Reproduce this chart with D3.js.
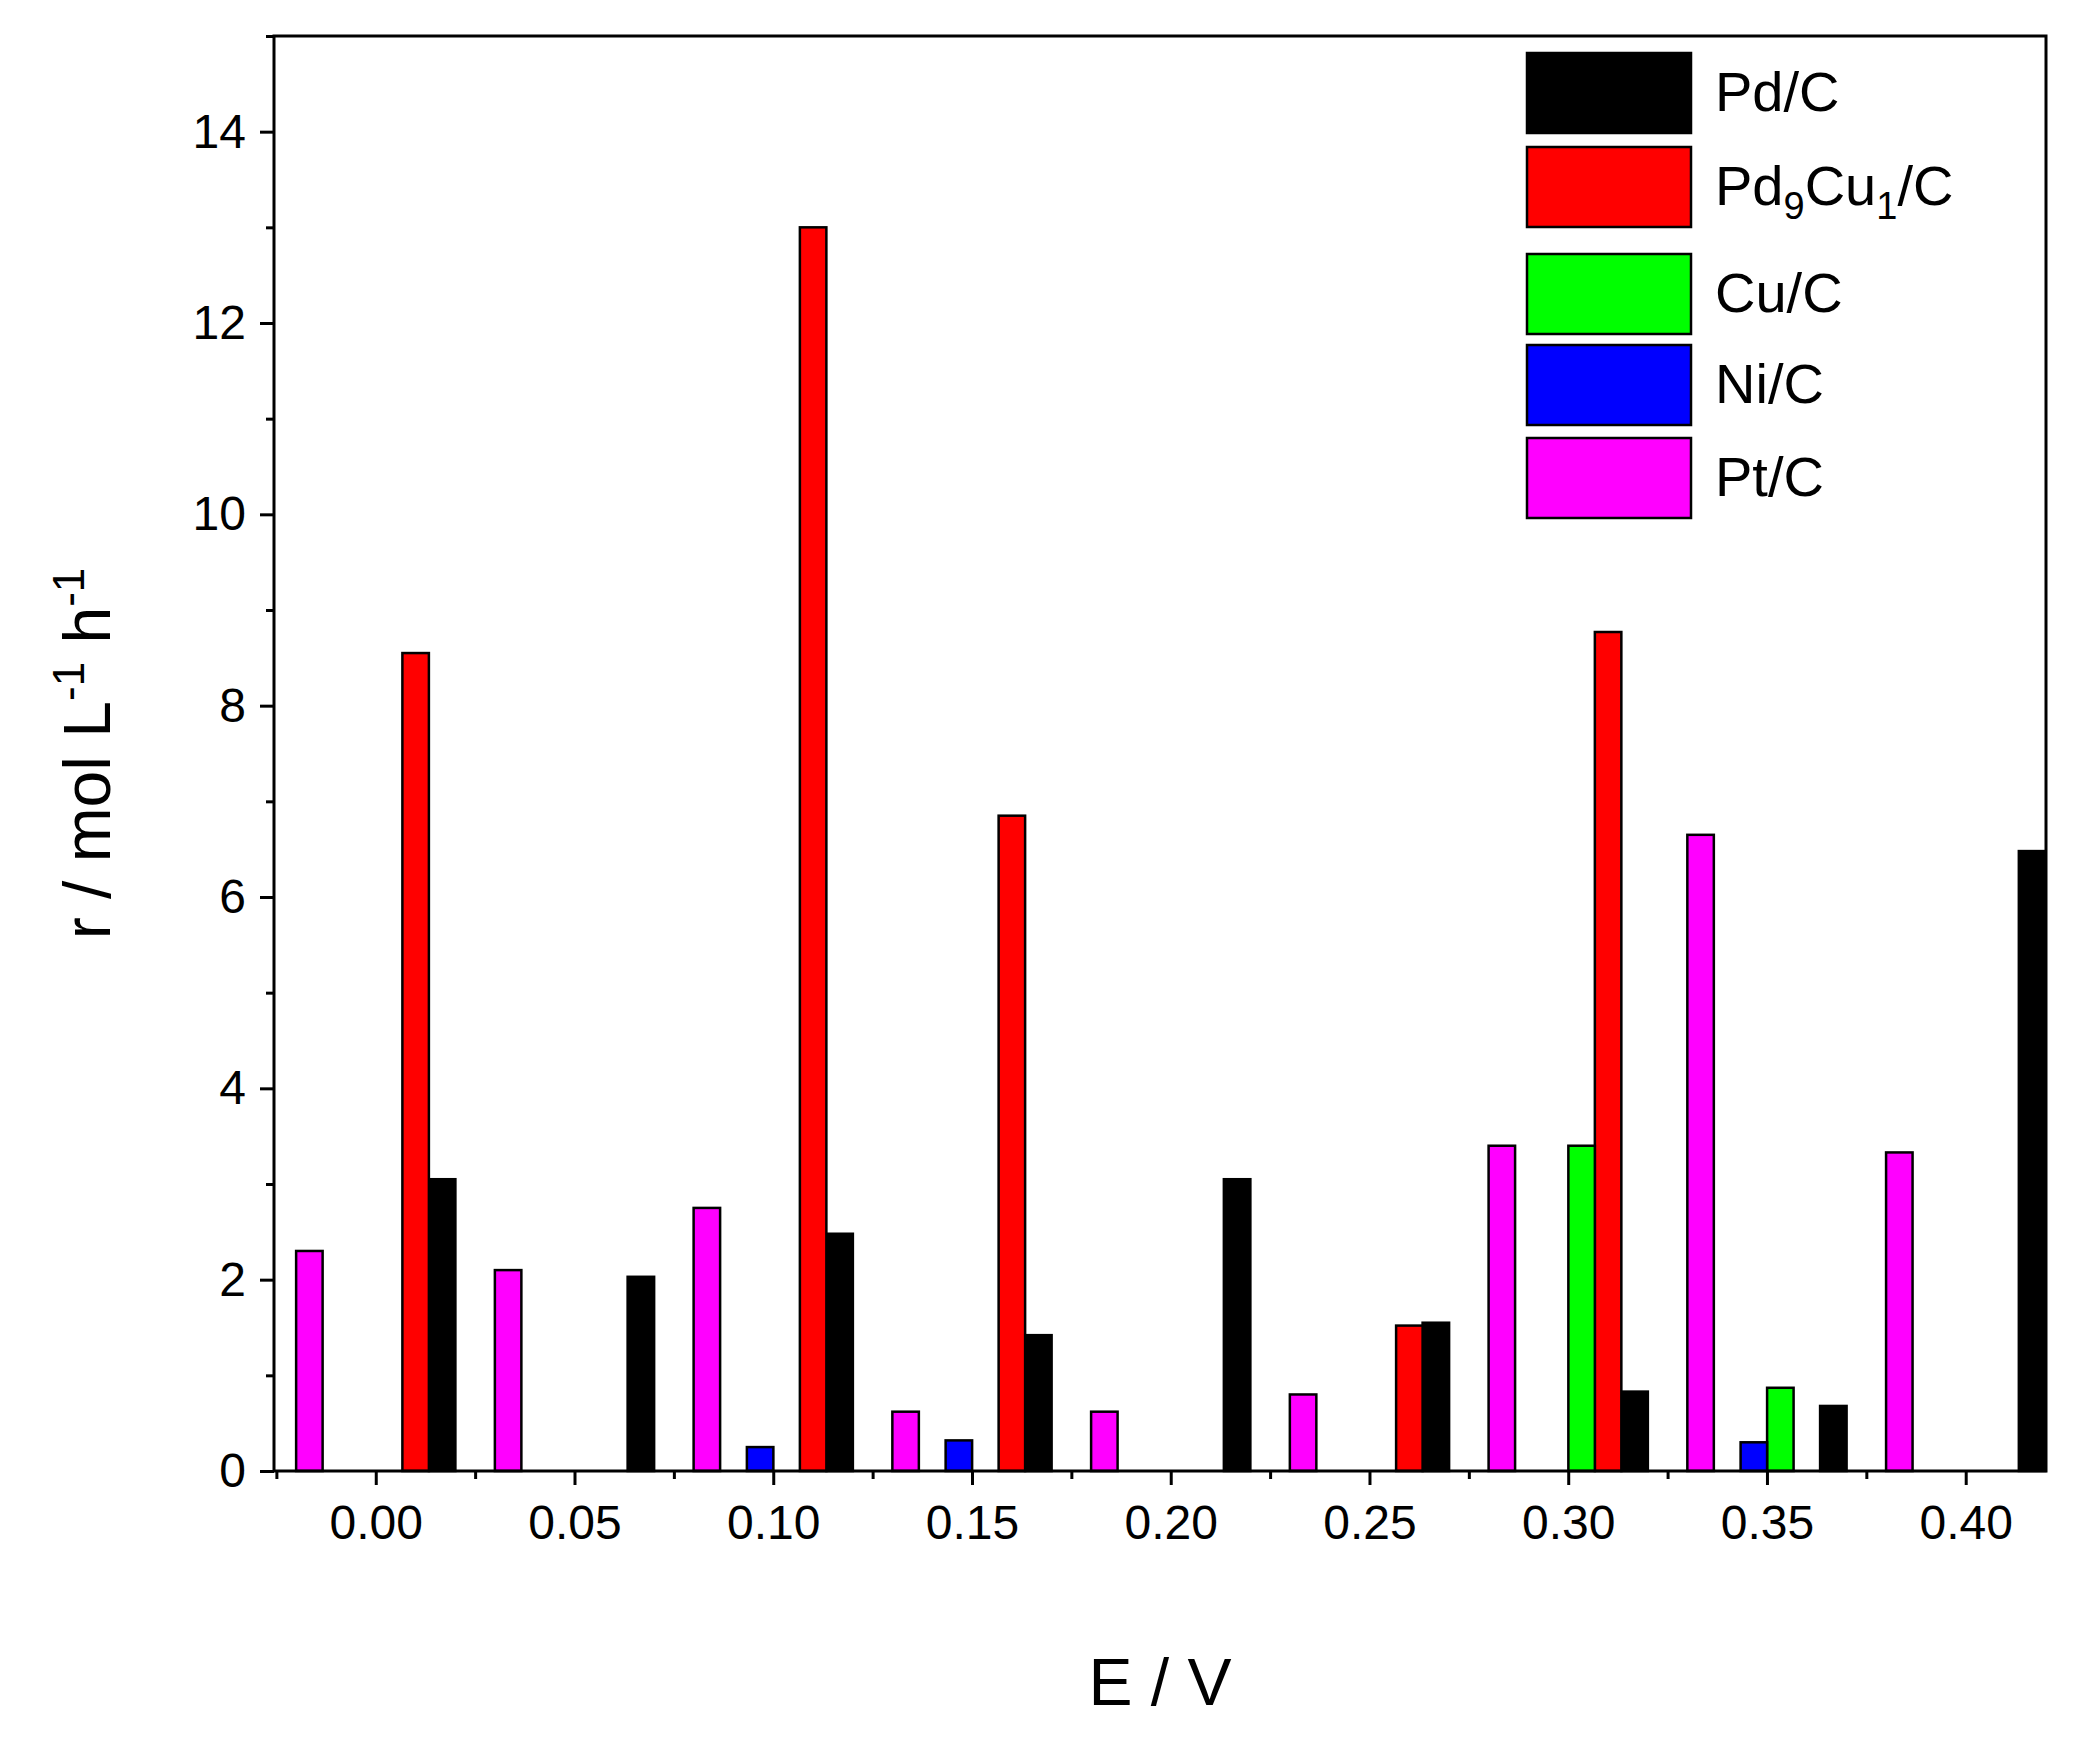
<!DOCTYPE html>
<html><head><meta charset="utf-8">
<script src="https://cdnjs.cloudflare.com/ajax/libs/d3/7.8.5/d3.min.js"></script>
<style>body{margin:0;background:#fff}text{font-family:Arial,"Liberation Sans",sans-serif}</style>
</head><body>
<script>
// group positions (E / V) for the grouped series, Pt/C sits on its own positions
var groupE = [0.0167,0.0667,0.1167,0.1667,0.2167,0.2667,0.3167,0.3667,0.4167];
var ptE = [-0.0167,0.0333,0.0833,0.1333,0.1833,0.2333,0.2833,0.3333,0.3833];
var pdC = [3.05,2.03,2.48,1.42,3.05,1.55,0.83,0.68,6.48];
var pd9cu1C = [8.55,0,13.0,6.85,0,1.52,8.77,0,0];
var cuC = [0,0,0,0,0,0,3.4,0.87,0];
var niC = [0,0,0.25,0.32,0,0,0,0.3,0];
var ptC = [2.3,2.1,2.75,0.62,0.62,0.8,3.4,6.65,3.33];
var xTicks = [0,0.05,0.1,0.15,0.2,0.25,0.3,0.35,0.4];
var yTicks = [0,2,4,6,8,10,12,14];

var W = 2097, H = 1739;
var L = 274, R = 2046, T = 36, B = 1471;
var bw = 1/150; // bar width in volts

var svg = d3.select("body").append("svg").attr("width", W).attr("height", H);
var x = d3.scaleLinear().domain([-0.0256,0.4202]).range([L,R]);
var y = d3.scaleLinear().domain([0,15]).range([B,T]);

//series: name, color, values, positions, offset in bar widths
var series = [
  {name:"Pd/C", color:"#000000", v:pdC, e:groupE, off:0},
  {name:"Pd9Cu1/C", color:"#ff0000", v:pd9cu1C, e:groupE, off:-1},
  {name:"Cu/C", color:"#00ff00", v:cuC, e:groupE, off:-2},
  {name:"Ni/C", color:"#0000ff", v:niC, e:groupE, off:-3},
  {name:"Pt/C", color:"#ff00ff", v:ptC, e:ptE, off:0}
];

series.forEach(function(s){
  var d = s.v.map(function(v,i){return {v:v, e:s.e[i]+s.off*bw};}).filter(function(d){return d.v>0;});
  svg.selectAll(null).data(d).enter().append("rect")
    .attr("x", function(d){return x(d.e-bw/2);})
    .attr("width", function(d){return x(d.e+bw/2)-x(d.e-bw/2);})
    .attr("y", function(d){return y(d.v);})
    .attr("height", function(d){return B-y(d.v);})
    .style("fill", s.color).style("stroke","#000").style("stroke-width",2.5);
});

// frame
svg.append("rect").attr("x",L).attr("y",T).attr("width",R-L).attr("height",B-T)
  .style("fill","none").style("stroke","#000").style("stroke-width",3);

// x axis
var xAxis = d3.axisBottom(x).tickValues(xTicks).tickFormat(d3.format(".2f")).tickSize(14).tickPadding(20);
var gx = svg.append("g").attr("transform","translate(0,"+B+")").call(xAxis);
gx.selectAll(".tick").data(d3.range(-0.025,0.42,0.025)).enter();
svg.append("g").attr("transform","translate(0,"+B+")")
  .call(d3.axisBottom(x).tickValues([-0.025,0.025,0.075,0.125,0.175,0.225,0.275,0.325,0.375,0.425].filter(function(t){return t<0.42;})).tickSize(8).tickFormat(""));
// y axis
var gy = svg.append("g").attr("transform","translate("+L+",0)")
  .call(d3.axisLeft(y).tickValues(yTicks).tickSize(14).tickPadding(14));
svg.append("g").attr("transform","translate("+L+",0)")
  .call(d3.axisLeft(y).tickValues([1,3,5,7,9,11,13,15]).tickSize(8).tickFormat(""));
svg.selectAll(".domain").remove();
svg.selectAll(".tick line").style("stroke","#000").style("stroke-width",3);
svg.selectAll(".tick text").style("font-size","48px").style("fill","#000");

// axis titles
svg.append("text").attr("x",(L+R)/2).attr("y",1705).attr("text-anchor","middle")
  .style("font-size","66px").text("E / V");
var yl = svg.append("text").attr("transform","translate(110,"+((T+B)/2)+") rotate(-90)")
  .attr("text-anchor","middle").style("font-size","66px");
yl.append("tspan").text("r / mol L");
yl.append("tspan").attr("dy",-26).style("font-size","44px").text("-1");
yl.append("tspan").attr("dy",26).text(" h");
yl.append("tspan").attr("dy",-26).style("font-size","44px").text("-1");

// legend
var legY = [53,147,254,345,438];
series.forEach(function(s,i){
  svg.append("rect").attr("x",1527).attr("y",legY[i]).attr("width",164).attr("height",80)
    .style("fill",s.color).style("stroke","#000").style("stroke-width",2.5);
  var t = svg.append("text").attr("x",1715).attr("y",legY[i]+58).style("font-size","56px");
  if(s.name==="Pd9Cu1/C"){
    t.append("tspan").text("Pd");
    t.append("tspan").attr("dy",14).style("font-size","38px").text("9");
    t.append("tspan").attr("dy",-14).text("Cu");
    t.append("tspan").attr("dy",14).style("font-size","38px").text("1");
    t.append("tspan").attr("dy",-14).text("/C");
  } else t.text(s.name);
});
</script>
</body></html>
